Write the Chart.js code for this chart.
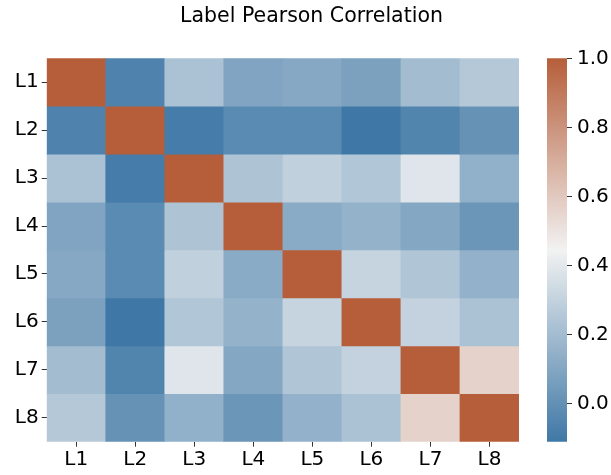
<!DOCTYPE html>
<html>
<head>
<meta charset="utf-8">
<script src="https://cdn.jsdelivr.net/npm/chart.js@4"></script>
<style>
  html,body{margin:0;padding:0;background:#fff;overflow:hidden;width:611px;height:475px}
  #heat{position:absolute;left:0;top:0}
  #cbar{position:absolute;left:500px;top:0}
</style>
</head>
<body>
<canvas id="heat" width="623" height="475"></canvas>
<canvas id="cbar" width="111" height="475"></canvas>
<script>
const labels=['L1','L2','L3','L4','L5','L6','L7','L8'];
const rowL1=[1.00,-0.06,0.225,0.09,0.11,0.075,0.20,0.255];
const rowL2=[-0.06,1.00,-0.09,-0.025,-0.025,-0.11,-0.05,0.01];
const rowL3=[0.225,-0.09,1.00,0.235,0.29,0.245,0.385,0.145];
const rowL4=[0.09,-0.025,0.235,1.00,0.12,0.155,0.105,0.025];
const rowL5=[0.11,-0.025,0.29,0.12,1.00,0.31,0.24,0.15];
const rowL6=[0.075,-0.11,0.245,0.155,0.31,1.00,0.30,0.225];
const rowL7=[0.20,-0.05,0.385,0.105,0.24,0.30,1.00,0.565];
const rowL8=[0.255,0.01,0.145,0.025,0.15,0.225,0.565,1.00];
const rows=[rowL1,rowL2,rowL3,rowL4,rowL5,rowL6,rowL7,rowL8];
const cbarTicks=[0,0.2,0.4,0.6,0.8,1.0];

const vmin=Math.min(...rows.flat()), vmax=1.0;
const font={family:'"DejaVu Sans"',size:20};

// diverging palette: blue -> light grey -> rust
const neg=[63,120,166], mid=[242,242,242], pos=[182,94,58];
function cmap(v){
  let t=(v-vmin)/(vmax-vmin);
  t=Math.max(0,Math.min(1,t));
  let a,b,s;
  if(t<0.5){a=neg;b=mid;s=t*2;}else{a=mid;b=pos;s=(t-0.5)*2;}
  const c=a.map((x,i)=>Math.round(x+(b[i]-x)*s));
  return `rgb(${c[0]},${c[1]},${c[2]})`;
}

const datasets=rows.map((r,i)=>({
  data:r.map(()=>[i-0.5,i+0.5]),
  backgroundColor:r.map(cmap),
  borderWidth:0,
  barPercentage:1,
  categoryPercentage:1,
  grouped:false
}));

new Chart(document.getElementById('heat'),{
  type:'bar',
  data:{labels,datasets},
  options:{
    responsive:false,animation:false,
    layout:{padding:0},
    plugins:{
      legend:{display:false},tooltip:{enabled:false},
      title:{display:true,text:'Label Pearson Correlation',color:'#000',
        font:{family:'"DejaVu Sans"',size:20.5,weight:'normal'},
        padding:{top:4,bottom:29.7}}
    },
    scales:{
      x:{
        offset:true,
        grid:{display:true,offset:false,drawOnChartArea:false,tickLength:5,color:'#333'},
        border:{display:false},
        ticks:{color:'#000',font,padding:1,maxRotation:0},
        afterFit:s=>{s.height=33.3;}
      },
      y:{
        type:'linear',reverse:true,min:-0.5,max:7.5,
        afterBuildTicks:s=>{s.ticks=labels.map((_,i)=>({value:i}));},
        grid:{display:true,drawOnChartArea:false,tickLength:5,color:'#333'},
        border:{display:false},
        ticks:{color:'#000',font,padding:3,callback:v=>labels[v]},
        afterFit:s=>{s.width=46.7;}
      },
      y2:{
        position:'right',display:true,
        grid:{display:false},border:{display:false},ticks:{display:false},
        afterFit:s=>{s.width=104;}
      }
    }
  }
});

new Chart(document.getElementById('cbar'),{
  type:'bar',
  data:{labels:[''],datasets:[{
    data:[[vmin,vmax]],
    borderWidth:0,barPercentage:1,categoryPercentage:1,
    backgroundColor:ctx=>{
      const ca=ctx.chart.chartArea;
      if(!ca) return cmap(vmin);
      const g=ctx.chart.ctx.createLinearGradient(0,ca.bottom,0,ca.top);
      for(let k=0;k<=20;k++){
        const f=k/20;
        g.addColorStop(f,cmap(vmin+(vmax-vmin)*f));
      }
      return g;
    }
  }]},
  options:{
    responsive:false,animation:false,
    layout:{padding:{left:47,top:58.3,bottom:33.3,right:0}},
    plugins:{legend:{display:false},tooltip:{enabled:false}},
    scales:{
      x:{display:false},
      y:{
        position:'right',min:vmin,max:vmax,
        afterBuildTicks:s=>{s.ticks=cbarTicks.map(v=>({value:v}));},
        grid:{display:true,drawOnChartArea:false,tickLength:5,color:'#333'},
        border:{display:false},
        ticks:{color:'#000',font,padding:5,callback:v=>v.toFixed(1)},
        afterFit:s=>{s.width=44;}
      }
    }
  }
});
</script>
</body>
</html>
